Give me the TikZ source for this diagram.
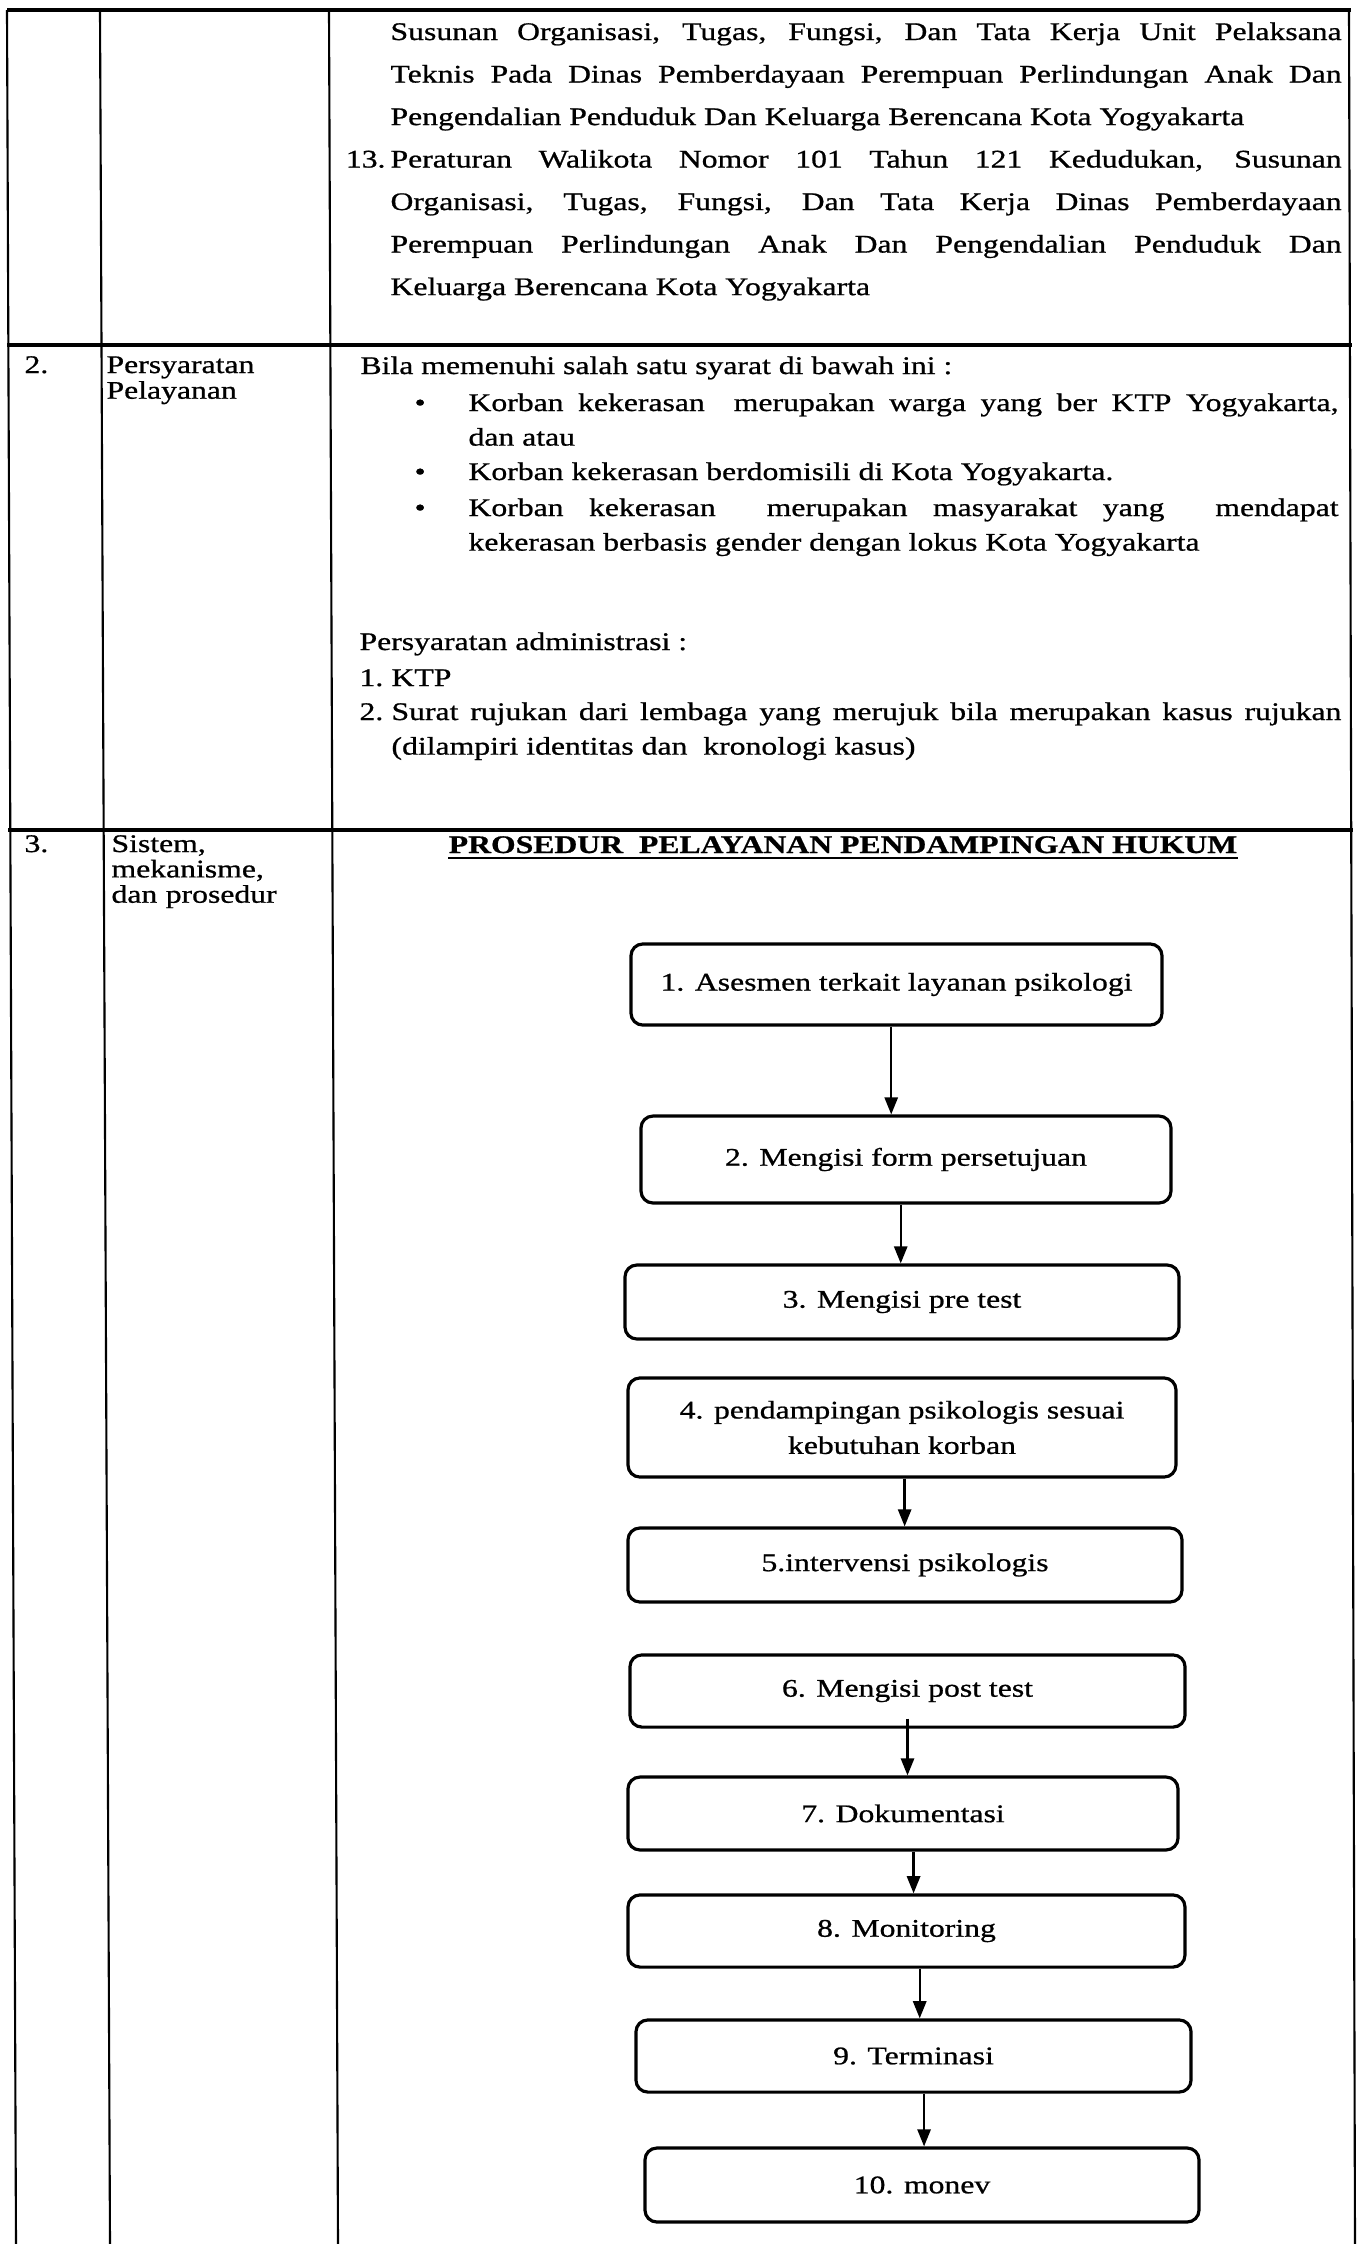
\documentclass[tikz,border=0pt]{standalone}
\usepackage{fontspec}
\setmainfont{Liberation Serif}[FakeStretch=1.25, FakeBold=0.8]
\usetikzlibrary{arrows.meta,positioning}

\tikzset{
  body/.style={font=\fontsize{9.6}{13.4}\selectfont},
  cell/.style={body, anchor=base west, inner sep=0pt},
  para/.style={cell, align=justify, font=\fontsize{9.6}{#1}\selectfont},
  stepbox/.style={body, draw, line width=1.2pt, rounded corners=4.5pt,
                  align=center, inner sep=0pt},
  flowarrow/.style={line width=0.9pt, -{Triangle[length=6.5pt,width=5pt]}},
  rule/.style={line width=0.8pt},
  rowrule/.style={line width=1.2pt},
}

\begin{document}
\begin{tikzpicture}[x=0.3785pt, y=-0.3785pt]
 \useasboundingbox (0,0) rectangle (1358,2244);
 \fill[white] (0,0) rectangle (1358,2244);

 % table rules
 \draw[rowrule] (7,10) -- (1351,10);
 \draw[rowrule] (7,345) -- (1352,345);
 \draw[rowrule] (8,830) -- (1353,830);
 \draw[rule] (7,10) -- (16,2244);
 \draw[rule] (100,10) -- (110,2244);
 \draw[rule] (329,10) -- (338,2244);
 \draw[rule] (1349,10) -- (1355,2244);

 % row 1: dasar hukum (lanjutan)
 \node[para=16.1pt, text width=360pt] (dasar12) at (390,40)
  {Susunan Organisasi, Tugas, Fungsi, Dan Tata Kerja Unit Pelaksana\linebreak
   Teknis Pada Dinas Pemberdayaan Perempuan Perlindungan Anak Dan\linebreak
   Pengendalian Penduduk Dan Keluarga Berencana Kota Yogyakarta};
 \node[para=16.1pt, text width=360pt] (dasar13) at (390,167.5)
  {Peraturan Walikota Nomor 101 Tahun 121 Kedudukan, Susunan\linebreak
   Organisasi, Tugas, Fungsi, Dan Tata Kerja Dinas Pemberdayaan\linebreak
   Perempuan Perlindungan Anak Dan Pengendalian Penduduk Dan\linebreak
   Keluarga Berencana Kota Yogyakarta};
 \node[cell, anchor=base east] (no13) at ([xshift=-1.5pt]dasar13.base west) {13.};

 % row 2: persyaratan
 \node[cell] (no2) at (24,373) {2.};
 \node[para=8.5pt, text width=80pt, align=left] (syarat) at (106,373)
  {Persyaratan\\Pelayanan};
 \node[cell] (bila) at (360,374) {Bila memenuhi salah satu syarat di bawah ini :};
 \node[cell] (dot1) at (414,411) {\textbullet};
 \node[para=13.1pt, text width=329.3pt] (korban1) at (468,411)
  {Korban kekerasan\ \ merupakan warga yang ber KTP Yogyakarta,\linebreak dan atau};
 \node[cell] (dot2) at (414,480) {\textbullet};
 \node[cell] (korban2) at (468,480) {Korban kekerasan berdomisili di Kota Yogyakarta.};
 \node[cell] (dot3) at (414,516) {\textbullet};
 \node[para=13.1pt, text width=329.3pt] (korban3) at (468,516)
  {Korban kekerasan\ \ merupakan masyarakat yang\ \ mendapat\linebreak
   kekerasan berbasis gender dengan lokus Kota Yogyakarta};
 \node[cell] (admin) at (359,650) {Persyaratan administrasi :};
 \node[cell] (adm1) at (359,686) {1.};
 \node[cell] (ktp) at (391,686) {KTP};
 \node[cell] (adm2) at (359,720) {2.};
 \node[para=13.1pt, text width=359.5pt] (rujukan) at (391,720)
  {Surat rujukan dari lembaga yang merujuk bila merupakan kasus rujukan\linebreak
   (dilampiri identitas dan\ \ kronologi kasus)};

 % row 3: sistem, mekanisme, prosedur
 \node[cell] (no3) at (24,852) {3.};
 \node[para=9.6pt, text width=80pt, align=left] (sistem) at (111,852)
  {Sistem,\\mekanisme,\\dan prosedur};
 \node[body, anchor=base, inner sep=0pt, font=\fontsize{9.6}{13.4}\selectfont\bfseries]
  (judul) at (843,853) {PROSEDUR\ \ PELAYANAN PENDAMPINGAN HUKUM};
 \draw[line width=0.9pt] ([yshift=-2pt]judul.base west) -- ([yshift=-2pt]judul.base east);

 \node[stepbox, minimum width=201pt, minimum height=30.7pt] (s1) at (896.5,984.5)
  {1. Asesmen terkait layanan psikologi};
 \node[stepbox, minimum width=200.6pt, minimum height=32.9pt] (s2) at (906,1159.5)
  {2. Mengisi form persetujuan};
 \node[stepbox, minimum width=209.7pt, minimum height=28pt] (s3) at (902,1302)
  {3. Mengisi pre test};
 \node[stepbox, minimum width=207.4pt, minimum height=37.5pt] (s4) at (902,1427.5)
  {4. pendampingan psikologis sesuai\\kebutuhan korban};
 \node[stepbox, minimum width=209.7pt, minimum height=28pt] (s5) at (905,1565)
  {5.intervensi psikologis};
 \node[stepbox, minimum width=210.1pt, minimum height=27.3pt] (s6) at (907.5,1691)
  {6. Mengisi post test};
 \node[stepbox, minimum width=208.2pt, minimum height=27.6pt] (s7) at (903,1813.5)
  {7. Dokumentasi};
 \node[stepbox, minimum width=210.8pt, minimum height=27.3pt] (s8) at (906.5,1931)
  {8. Monitoring};
 \node[stepbox, minimum width=210.1pt, minimum height=27.3pt] (s9) at (913.5,2056)
  {9. Terminasi};
 \node[stepbox, minimum width=209.7pt, minimum height=28pt] (s10) at (922,2185)
  {10. monev};

 \draw[flowarrow] ([xshift=-2pt]s1.south) -- ([xshift=-2pt]s1.south |- s2.north);
 \draw[flowarrow] ([xshift=-2pt]s2.south) -- ([xshift=-2pt]s2.south |- s3.north);
 \draw[flowarrow] ([xshift=1pt]s4.south) -- ([xshift=1pt]s4.south |- s5.north);
 \draw[flowarrow] ([yshift=3.8pt]s6.south) -- (s6.south |- s7.north);
 \draw[flowarrow] ([xshift=4pt]s7.south) -- ([xshift=4pt]s7.south |- s8.north);
 \draw[flowarrow] ([xshift=5pt]s8.south) -- ([xshift=5pt]s8.south |- s9.north);
 \draw[flowarrow] ([xshift=4pt]s9.south) -- ([xshift=4pt]s9.south |- s10.north);
\end{tikzpicture}
\end{document}
